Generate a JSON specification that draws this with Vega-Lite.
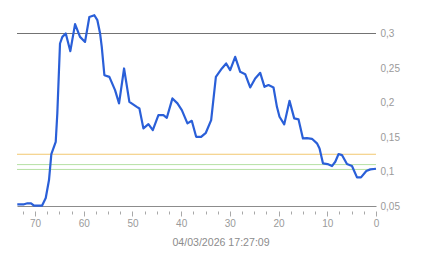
{
  "$schema": "https://vega.github.io/schema/vega-lite/v6.json",
  "width": 359,
  "height": 207,
  "autosize": "none",
  "padding": {"left": 17, "top": -1, "right": 67, "bottom": 52},
  "config": {"view": {"stroke": null}, "font": "Liberation Sans"},
  "layer": [
    {
      "data": {"values": [
        {"level": "limit", "v": 0.3},
        {"level": "warn", "v": 0.125},
        {"level": "ok1", "v": 0.11},
        {"level": "ok2", "v": 0.103}
      ]},
      "mark": {"type": "rule", "strokeWidth": 1},
      "encoding": {
        "y": {"field": "v", "type": "quantitative", "scale": {"domain": [0.05, 0.35], "nice": false, "zero": false},
          "axis": {
            "orient": "right", "values": [0.05, 0.1, 0.15, 0.2, 0.25, 0.3],
            "labelExpr": "replace(format(datum.value, '.2~f'), '.', ',')",
            "domain": false, "ticks": false, "grid": false,
            "labelFontSize": 10, "labelColor": "#9a9a9a", "labelPadding": 4,
            "labelOverlap": false, "labelBound": false, "labelFlush": false,
            "title": null
          }},
        "color": {"field": "level", "type": "nominal", "legend": null,
          "scale": {"domain": ["limit", "warn", "ok1", "ok2"], "range": ["#737373", "#f2c870", "#b6e0a4", "#b6e0a4"]}}
      }
    },
    {
      "data": {"values": [
        {"t": 73.64, "v": 0.0525}, {"t": 72.26, "v": 0.0525}, {"t": 71.55, "v": 0.0539}, {"t": 70.82, "v": 0.0539},
        {"t": 70.21, "v": 0.0504}, {"t": 68.57, "v": 0.0504}, {"t": 67.8, "v": 0.0616}, {"t": 67.13, "v": 0.0876},
        {"t": 66.65, "v": 0.1253}, {"t": 65.75, "v": 0.1431}, {"t": 65.42, "v": 0.1846}, {"t": 64.87, "v": 0.2855},
        {"t": 64.39, "v": 0.2951}, {"t": 63.69, "v": 0.3}, {"t": 62.75, "v": 0.2744}, {"t": 61.78, "v": 0.3135},
        {"t": 60.76, "v": 0.2951}, {"t": 59.73, "v": 0.2878}, {"t": 58.85, "v": 0.324}, {"t": 57.82, "v": 0.3265},
        {"t": 57.2, "v": 0.3193}, {"t": 56.65, "v": 0.3004}, {"t": 56.3, "v": 0.2806}, {"t": 55.76, "v": 0.2396},
        {"t": 54.74, "v": 0.2372}, {"t": 53.57, "v": 0.2179}, {"t": 52.75, "v": 0.1987}, {"t": 51.72, "v": 0.2493},
        {"t": 50.63, "v": 0.201}, {"t": 49.11, "v": 0.1937}, {"t": 48.57, "v": 0.1914}, {"t": 47.75, "v": 0.1625},
        {"t": 46.72, "v": 0.1687}, {"t": 45.82, "v": 0.16}, {"t": 44.67, "v": 0.1817}, {"t": 43.64, "v": 0.1817},
        {"t": 42.94, "v": 0.1778}, {"t": 41.79, "v": 0.2059}, {"t": 40.76, "v": 0.1987}, {"t": 39.86, "v": 0.189},
        {"t": 38.71, "v": 0.1697}, {"t": 37.82, "v": 0.1735}, {"t": 36.92, "v": 0.1503}, {"t": 35.9, "v": 0.1503},
        {"t": 34.93, "v": 0.1561}, {"t": 33.84, "v": 0.1745}, {"t": 32.87, "v": 0.2372}, {"t": 31.64, "v": 0.2493},
        {"t": 30.76, "v": 0.2566}, {"t": 29.94, "v": 0.2469}, {"t": 28.91, "v": 0.2661}, {"t": 27.88, "v": 0.2444},
        {"t": 26.85, "v": 0.2411}, {"t": 25.83, "v": 0.2218}, {"t": 24.8, "v": 0.2349}, {"t": 23.77, "v": 0.243},
        {"t": 22.89, "v": 0.2227}, {"t": 22.07, "v": 0.2252}, {"t": 21.04, "v": 0.2218}, {"t": 20.34, "v": 0.1937},
        {"t": 19.81, "v": 0.1793}, {"t": 18.84, "v": 0.1683}, {"t": 17.75, "v": 0.2024}, {"t": 16.79, "v": 0.177},
        {"t": 15.9, "v": 0.1755}, {"t": 15.0, "v": 0.148}, {"t": 14.18, "v": 0.1484}, {"t": 13.15, "v": 0.1474},
        {"t": 12.12, "v": 0.1408}, {"t": 11.59, "v": 0.1335}, {"t": 10.89, "v": 0.1118}, {"t": 9.94, "v": 0.1108},
        {"t": 9.04, "v": 0.1079}, {"t": 8.36, "v": 0.1141}, {"t": 7.68, "v": 0.1253}, {"t": 6.99, "v": 0.1238},
        {"t": 5.96, "v": 0.1108}, {"t": 4.93, "v": 0.1079}, {"t": 3.9, "v": 0.0915}, {"t": 3.08, "v": 0.0915},
        {"t": 1.99, "v": 0.1007}, {"t": 1.17, "v": 0.1031}, {"t": 0.0, "v": 0.104}
      ]},
      "mark": {"type": "line", "color": "#2a5fd8", "strokeWidth": 2.2, "strokeJoin": "round"},
      "encoding": {
        "x": {"field": "t", "type": "quantitative",
          "scale": {"domain": [0, 73.7], "reverse": true, "nice": false, "zero": false},
          "axis": {
            "values": [72.5, 70, 67.5, 65, 62.5, 60, 57.5, 55, 52.5, 50, 47.5, 45, 42.5, 40, 37.5, 35, 32.5, 30, 27.5, 25, 22.5, 20, 17.5, 15, 12.5, 10, 7.5, 5, 2.5, 0],
            "labelExpr": "datum.value % 10 === 0 ? datum.label : ''",
            "labelOverlap": false, "labelFlush": false, "labelBound": false,
            "grid": false,
            "domain": true, "domainColor": "#8c8c8c", "domainWidth": 1.2,
            "ticks": true, "tickColor": "#a8a8a8", "tickWidth": 1,
            "tickSize": {"condition": {"test": "datum.value % 10 === 0", "value": 10}, "value": 8},
            "tickDash": {"condition": {"test": "datum.value % 10 === 0", "value": [0, 5, 5, 0]}, "value": [0, 5, 3, 0]},
            "labelFontSize": 10, "labelColor": "#9a9a9a", "labelPadding": 2,
            "title": "04/03/2026 17:27:09", "titleFontSize": 10.6, "titleFontWeight": "normal", "titleColor": "#8c8c8c",
            "titleX": 203.5, "titleY": 39, "titleAlign": "center", "titleBaseline": "alphabetic", "titleAnchor": null
          }},
        "y": {"field": "v", "type": "quantitative"}
      }
    }
  ]
}
